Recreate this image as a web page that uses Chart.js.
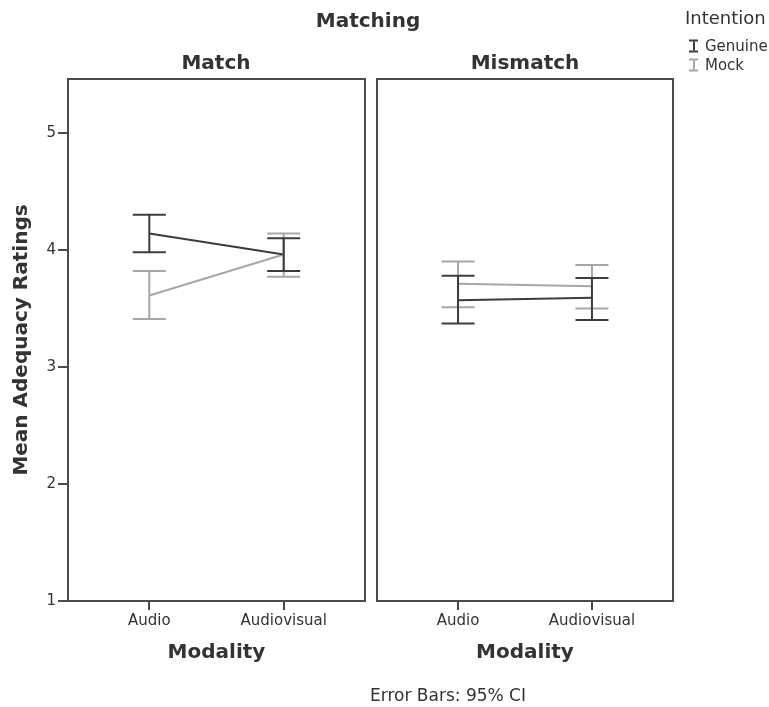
<!DOCTYPE html>
<html>
<head>
<meta charset="utf-8">
<script src="https://cdn.jsdelivr.net/npm/chart.js@4.4.1/dist/chart.umd.min.js"></script>
<style>
  body { margin: 0; background: #fff; }
  #wrap { position: relative; width: 769px; height: 707px; font-family: "DejaVu Sans", sans-serif; color: #333; }
  #wrap canvas { position: absolute; top: 0; }
  .t { position: absolute; transform: translate(-50%, -50%); white-space: nowrap; }
  .l { position: absolute; transform: translateY(-50%); white-space: nowrap; }
  .ibeam { position: absolute; width: 9px; height: 9px; transform: translateY(-50%); border-top: 2px solid; border-bottom: 2px solid; }
  .ibeam::after { content: ""; position: absolute; left: 4px; top: 0; width: 1.5px; height: 9px; background: currentColor; }
</style>
</head>
<body>
<div id="wrap">
  <canvas id="chMatch" width="372" height="707" style="left:0"></canvas>
  <canvas id="chMismatch" width="399" height="707" style="left:370px"></canvas>
  <div class="t" style="left:368px;top:20px;font-weight:bold;font-size:20px">Matching</div>
  <div class="t" style="left:216px;top:62px;font-weight:bold;font-size:20px">Match</div>
  <div class="t" style="left:525px;top:62px;font-weight:bold;font-size:20px">Mismatch</div>
  <div class="l" style="left:685px;top:17px;font-size:18px">Intention</div>
  <span class="ibeam" style="left:689px;top:46px;color:#3c3c3c"></span>
  <div class="l" style="left:705px;top:46px;font-size:15px">Genuine</div>
  <span class="ibeam" style="left:689px;top:65px;color:#a6a6a6"></span>
  <div class="l" style="left:705px;top:65px;font-size:15px">Mock</div>
  <div class="t" style="left:448px;top:695px;font-size:17px">Error Bars: 95% CI</div>
</div>
<script>
// categories
const modalities = ['Audio', 'Audiovisual'];
const yTicks = [1, 2, 3, 4, 5];

// Match panel
const matchGenuineMean = [4.14, 3.96];
const matchGenuineLow  = [3.98, 3.82];
const matchGenuineHigh = [4.30, 4.10];
const matchMockMean    = [3.61, 3.96];
const matchMockLow     = [3.41, 3.77];
const matchMockHigh    = [3.82, 4.14];

// Mismatch panel
const mismatchGenuineMean = [3.57, 3.59];
const mismatchGenuineLow  = [3.37, 3.40];
const mismatchGenuineHigh = [3.78, 3.76];
const mismatchMockMean    = [3.71, 3.69];
const mismatchMockLow     = [3.51, 3.50];
const mismatchMockHigh    = [3.90, 3.87];

const genuineColor = '#3c3c3c';
const mockColor = '#a6a6a6';
const axisColor = '#4a4a4a';
const textColor = '#333';

// error bars + full frame around chart area
var errorBars = {
    id: 'errorBars',
    afterDatasetsDraw(chart) {
        const ctx = chart.ctx;
        const xs = chart.scales.x, ys = chart.scales.y;
        ctx.save();
        for (let i = chart.data.datasets.length - 1; i >= 0; i--) {
            const ds = chart.data.datasets[i];
            ctx.strokeStyle = ds.borderColor;
            ctx.lineWidth = 2;
            ds.data.forEach((p, j) => {
                const x = xs.getPixelForValue(p.x);
                const y1 = ys.getPixelForValue(ds.errLow[j]);
                const y2 = ys.getPixelForValue(ds.errHigh[j]);
                ctx.beginPath();
                ctx.moveTo(x, y1); ctx.lineTo(x, y2);
                ctx.moveTo(x - 16.5, y1); ctx.lineTo(x + 16.5, y1);
                ctx.moveTo(x - 16.5, y2); ctx.lineTo(x + 16.5, y2);
                ctx.stroke();
            });
        }
        const a = chart.chartArea;
        ctx.strokeStyle = axisColor;
        ctx.lineWidth = 2;
        ctx.strokeRect(a.left, a.top, a.right - a.left, a.bottom - a.top);
        ctx.restore();
    }
};

function makeSet(label, mean, low, high, color) {
    return {
        label: label,
        data: mean.map((v, i) => ({ x: i, y: v })),
        errLow: low,
        errHigh: high,
        borderColor: color,
        backgroundColor: color,
        borderWidth: 2,
        pointRadius: 0,
        tension: 0
    };
}

function panelConfig(sets, showY, padding) {
    return {
        type: 'line',
        data: { datasets: sets },
        options: {
            responsive: false,
            animation: false,
            devicePixelRatio: 1,
            layout: { padding: padding },
            plugins: { legend: { display: false }, tooltip: { enabled: false } },
            scales: {
                x: {
                    type: 'linear',
                    min: -0.605,
                    max: 1.605,
                    afterBuildTicks: (s) => { s.ticks = modalities.map((m, i) => ({ value: i })); },
                    afterFit: (s) => { s.height = 106; },
                    ticks: {
                        callback: (v) => modalities[v],
                        color: textColor,
                        font: { family: 'DejaVu Sans', size: 15 },
                        padding: 2,
                        maxRotation: 0
                    },
                    grid: { drawOnChartArea: false, tickLength: 9, color: axisColor, lineWidth: 2 },
                    border: { color: axisColor, width: 2 },
                    title: {
                        display: true,
                        text: 'Modality',
                        color: textColor,
                        font: { family: 'DejaVu Sans', size: 20, weight: 'bold' },
                        padding: { top: 0, bottom: 42 }
                    }
                },
                y: {
                    display: showY,
                    min: 1,
                    max: 5.46,
                    afterBuildTicks: (s) => { s.ticks = yTicks.map(v => ({ value: v })); },
                    afterFit: (s) => { s.width = showY ? 68 : 0; },
                    ticks: {
                        color: textColor,
                        font: { family: 'DejaVu Sans', size: 15 },
                        padding: 2
                    },
                    grid: { drawOnChartArea: false, tickLength: 10, color: axisColor, lineWidth: 2 },
                    border: { color: axisColor, width: 2 },
                    title: {
                        display: true,
                        text: 'Mean Adequacy Ratings',
                        color: textColor,
                        font: { family: 'DejaVu Sans', size: 20, weight: 'bold' },
                        padding: { top: 10, bottom: 0 }
                    }
                }
            }
        },
        plugins: [errorBars]
    };
}

new Chart(document.getElementById('chMatch'), panelConfig([
    makeSet('Genuine', matchGenuineMean, matchGenuineLow, matchGenuineHigh, genuineColor),
    makeSet('Mock', matchMockMean, matchMockLow, matchMockHigh, mockColor)
], true, { top: 79, right: 7, bottom: 0, left: 0 }));

new Chart(document.getElementById('chMismatch'), panelConfig([
    makeSet('Genuine', mismatchGenuineMean, mismatchGenuineLow, mismatchGenuineHigh, genuineColor),
    makeSet('Mock', mismatchMockMean, mismatchMockLow, mismatchMockHigh, mockColor)
], false, { top: 79, right: 96, bottom: 0, left: 7 }));
</script>
</body>
</html>
